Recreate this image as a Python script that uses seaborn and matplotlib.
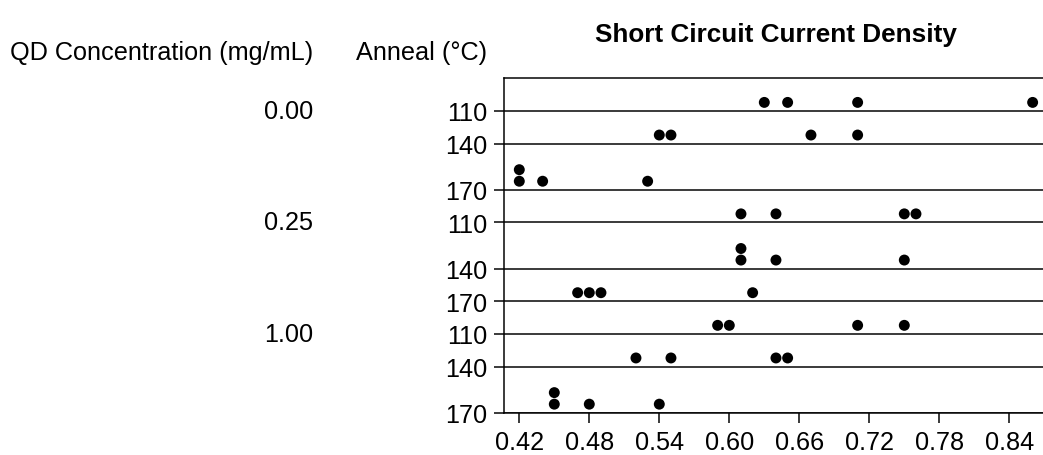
import numpy as np
import pandas as pd
import matplotlib
matplotlib.use("Agg")
import matplotlib.pyplot as plt
import matplotlib.transforms as mtransforms
import seaborn as sns

# Short circuit current density measurements, grouped by QD concentration and anneal temperature
concentrations = ["0.00", "0.25", "1.00"]
anneal_temps = ["110", "140", "170"]

jsc_000_110 = [0.63, 0.65, 0.71, 0.86]
jsc_000_140 = [0.54, 0.55, 0.67, 0.71]
jsc_000_170 = [0.42, 0.42, 0.44, 0.53]
jsc_025_110 = [0.61, 0.64, 0.75, 0.76]
jsc_025_140 = [0.61, 0.61, 0.64, 0.75]
jsc_025_170 = [0.47, 0.48, 0.49, 0.62]
jsc_100_110 = [0.59, 0.60, 0.71, 0.75]
jsc_100_140 = [0.52, 0.55, 0.64, 0.65]
jsc_100_170 = [0.45, 0.45, 0.48, 0.54]

x_ticks = [0.42, 0.48, 0.54, 0.60, 0.66, 0.72, 0.78, 0.84]

groups = {
    ("0.00", "110"): jsc_000_110, ("0.00", "140"): jsc_000_140, ("0.00", "170"): jsc_000_170,
    ("0.25", "110"): jsc_025_110, ("0.25", "140"): jsc_025_140, ("0.25", "170"): jsc_025_170,
    ("1.00", "110"): jsc_100_110, ("1.00", "140"): jsc_100_140, ("1.00", "170"): jsc_100_170,
}

rows = []
for (conc, temp), vals in groups.items():
    for v in vals:
        rows.append({"conc": conc, "anneal": temp, "jsc": v})
df = pd.DataFrame(rows)

# stack repeated values inside each row, dot-plot style
df["level"] = df.groupby(["conc", "anneal", "jsc"]).cumcount()

# each row band grows with the tallest stack it holds
band_base, band_step = 19.0, 13.5
dot_offset, dot_step = 8.5, 11.5
row_keys = [(c, t) for c in concentrations for t in anneal_temps]
bottoms = {}
y = 0.0
for key in row_keys:
    sub = df[(df["conc"] == key[0]) & (df["anneal"] == key[1])]
    n = sub["level"].max() + 1
    y += band_base + band_step * n
    bottoms[key] = y
total_height = y

df["ypos"] = [bottoms[(c, t)] - dot_offset - dot_step * s
              for c, t, s in zip(df["conc"], df["anneal"], df["level"])]

sns.set_theme(style="white")
plt.rcParams["font.family"] = ["Liberation Sans", "DejaVu Sans"]
plt.rcParams["text.color"] = "black"

W, H = 1043, 456
fig = plt.figure(figsize=(W / 100, H / 100), dpi=100)
ax_left, ax_top, ax_bottom = 504, 79.3, 413.7
ax = fig.add_axes([ax_left / W, 1 - ax_bottom / H, 1 - ax_left / W, (ax_bottom - ax_top) / H])

sns.scatterplot(data=df, x="jsc", y="ypos", ax=ax, color="black", s=62,
                edgecolor="none", linewidth=0, legend=False, zorder=3)

# x scale: 70 px per 0.06, 0.42 sits 15.3 px right of the left spine
px_per_unit = 70 / 0.06
xmin = 0.42 - 15.3 / px_per_unit
xmax = xmin + (W - ax_left) / px_per_unit
ax.set_xlim(xmin, xmax)
ax.set_ylim(total_height, 0)

line_w = 1.5 * 72 / 100
for key in row_keys:
    ax.axhline(bottoms[key], color="black", linewidth=line_w, zorder=2)

ax.set_yticks([bottoms[k] for k in row_keys])
ax.set_yticklabels([k[1] for k in row_keys])
ax.set_xticks(x_ticks)
ax.set_xticklabels([f"{t:.2f}" for t in x_ticks])
ax.set_xlabel("")
ax.set_ylabel("")

fs = 18.2
ax.tick_params(axis="both", which="major", direction="out", length=7.2, width=line_w,
               color="black", labelcolor="black", labelsize=fs, pad=5,
               left=True, bottom=True)
for side in ["left", "top", "bottom"]:
    ax.spines[side].set_visible(True)
    ax.spines[side].set_color("black")
    ax.spines[side].set_linewidth(line_w)
ax.spines["right"].set_visible(False)

# group labels for QD concentration, aligned to the first row of each group
trans = mtransforms.blended_transform_factory(fig.transFigure, ax.transData)
for c in concentrations:
    ax.text(313 / W, bottoms[(c, anneal_temps[0])], c, transform=trans,
            ha="right", va="center", fontsize=fs, color="black")

fig.text(313 / W, 1 - 53 / H, "QD Concentration (mg/mL)", ha="right", va="center",
         fontsize=fs, color="black")
fig.text(487 / W, 1 - 53 / H, "Anneal (°C)", ha="right", va="center",
         fontsize=fs, color="black")
fig.text(776 / W, 1 - 35 / H, "Short Circuit Current Density", ha="center", va="center",
         fontsize=18.8, fontweight="bold", color="black")

fig.savefig("out.png", dpi=100, facecolor="white")
